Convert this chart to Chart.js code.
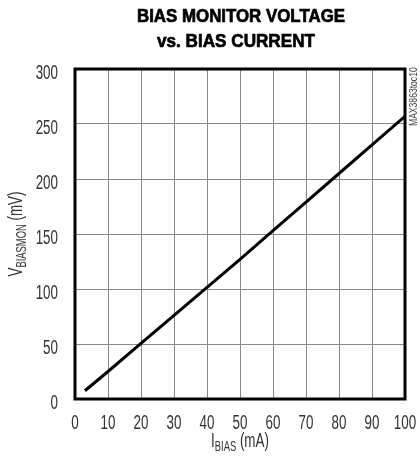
<!DOCTYPE html>
<html>
<head>
<meta charset="utf-8">
<script src="https://cdn.jsdelivr.net/npm/chart.js@4"></script>
<style>
    html, body { margin: 0; padding: 0; background: #fff; }
    #wrap { position: relative; width: 420px; height: 459px; }
    .tline {
        position: absolute; left: 0; white-space: nowrap; transform-origin: 0 0;
        font-family: "Liberation Sans", Arial, sans-serif; font-weight: bold;
        font-size: 19px; line-height: 19px; color: #000;
        -webkit-text-stroke: 0.7px #000;
    }
</style>
</head>
<body>
<div id="wrap">
    <div class="tline" id="t1" data-left="137" data-w="208" data-top="6">BIAS MONITOR VOLTAGE</div>
    <div class="tline" id="t2" data-left="157" data-w="158" data-top="31">vs. BIAS CURRENT</div>
    <canvas id="chart" width="420" height="459"></canvas>
</div>
<script>
const FONT = '"Liberation Sans", Arial, sans-serif';
const SQUEEZE = 0.67; // condensed look of the original lettering

// I_BIAS (mA) and V_BIASMON (mV)
const biasCurrent = [3, 10, 20, 30, 40, 50, 60, 70, 80, 90, 100];
const monitorVoltage = [7.5, 25, 50.5, 76, 101.5, 127, 153, 179, 205, 231, 257];

const xTicks = [0, 10, 20, 30, 40, 50, 60, 70, 80, 90, 100];
const yTicks = [0, 50, 100, 150, 200, 250, 300];

// squeeze the title lines into their original widths
document.querySelectorAll('.tline').forEach(el => {
    const w = el.getBoundingClientRect().width;
    el.style.left = el.dataset.left + 'px';
    el.style.top = el.dataset.top + 'px';
    el.style.transform = 'scaleX(' + (el.dataset.w / w) + ')';
});

function drawSqueezed(ctx, parts, x, y, align, sx) {
    let total = 0;
    parts.forEach(p => { ctx.font = p[1] + 'px ' + FONT; total += ctx.measureText(p[0]).width; });
    ctx.save();
    ctx.translate(x, y);
    ctx.scale(sx, 1);
    let cx = align === 'center' ? -total / 2 : (align === 'right' ? -total : 0);
    ctx.textAlign = 'left';
    parts.forEach(p => {
        ctx.font = p[1] + 'px ' + FONT;
        ctx.fillText(p[0], cx, p[2]);
        cx += ctx.measureText(p[0]).width;
    });
    ctx.restore();
}

// frame, tick labels, axis titles with subscripts, side label
const decorPlugin = {
    id: 'decor',
    afterDraw(chart) {
        const ctx = chart.ctx;
        const a = chart.chartArea;
        ctx.save();
        ctx.strokeStyle = '#000';
        ctx.lineWidth = 3;
        ctx.strokeRect(a.left, a.top, a.right - a.left, a.bottom - a.top);

        ctx.fillStyle = '#333';
        ctx.textBaseline = 'alphabetic';

        const xs = chart.scales.x, ys = chart.scales.y;
        xs.ticks.forEach(t => {
            drawSqueezed(ctx, [[String(t.value), 20, 0]], xs.getPixelForValue(t.value), a.bottom + 30, 'center', SQUEEZE);
        });
        ys.ticks.forEach(t => {
            drawSqueezed(ctx, [[String(t.value), 20, 0]], 58, ys.getPixelForValue(t.value) + 10, 'right', SQUEEZE);
        });

        // x title: I_BIAS (mA)
        drawSqueezed(ctx, [['I', 20, 0], ['BIAS', 14, 4], [' (mA)', 20, 0]], (a.left + a.right) / 2, 447, 'center', SQUEEZE);

        // y title: V_BIASMON (mV)
        ctx.save();
        ctx.translate(22, (a.top + a.bottom) / 2);
        ctx.rotate(-Math.PI / 2);
        drawSqueezed(ctx, [['V', 20, 0], ['BIASMON', 14, 4], [' (mV)', 20, 0]], 0, 0, 'center', SQUEEZE);
        ctx.restore();

        // side label
        ctx.save();
        ctx.translate(417, 126);
        ctx.rotate(-Math.PI / 2);
        ctx.fillStyle = '#444';
        drawSqueezed(ctx, [['MAX3863toc10', 11, 0]], 0, 0, 'left', 0.78);
        ctx.restore();
        ctx.restore();
    }
};

new Chart(document.getElementById('chart'), {
    type: 'line',
    data: {
        datasets: [{
            data: biasCurrent.map((x, i) => ({ x: x, y: monitorVoltage[i] })),
            borderColor: '#000',
            borderWidth: 3,
            pointRadius: 0,
            tension: 0,
            fill: false
        }]
    },
    options: {
        responsive: false,
        animation: false,
        layout: { padding: { top: 69, right: 15, left: 0, bottom: 0 } },
        plugins: { legend: { display: false }, tooltip: { enabled: false } },
        scales: {
            x: {
                type: 'linear',
                min: 0, max: 100,
                afterBuildTicks: s => { s.ticks = xTicks.map(v => ({ value: v })); },
                afterFit: s => { s.height = 60; s.paddingLeft = 0; s.paddingRight = 0; },
                grid: { color: '#888', lineWidth: 1, drawTicks: false },
                border: { display: false },
                ticks: { display: false }
            },
            y: {
                min: 0, max: 300,
                afterBuildTicks: s => { s.ticks = yTicks.map(v => ({ value: v })); },
                afterFit: s => { s.width = 75; s.paddingTop = 0; s.paddingBottom = 0; },
                grid: { color: '#888', lineWidth: 1, drawTicks: false },
                border: { display: false },
                ticks: { display: false }
            }
        }
    },
    plugins: [decorPlugin]
});
</script>
</body>
</html>
